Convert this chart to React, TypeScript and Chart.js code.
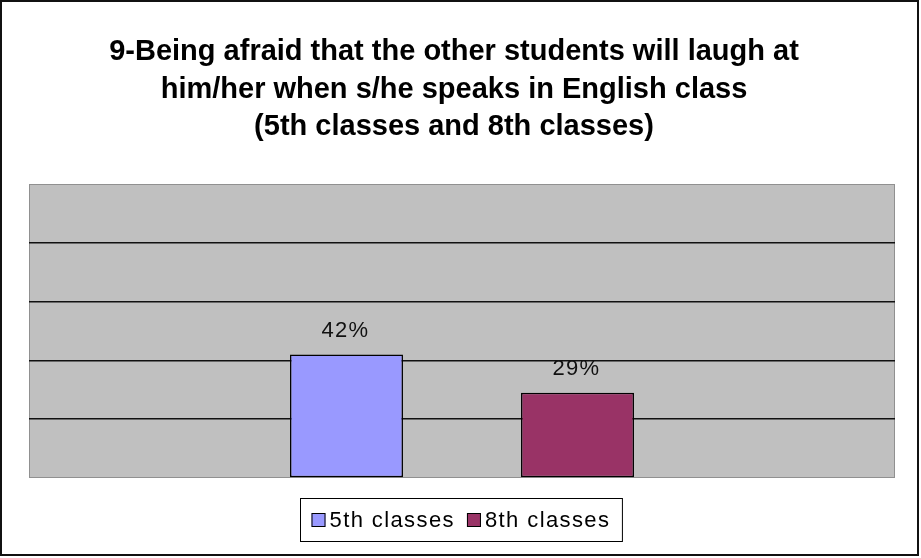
import React, { useEffect, useRef } from "react";
import { Chart, registerables } from "chart.js";

Chart.register(...registerables);

const titleLines = [
  "9-Being afraid that the other students will laugh at",
  "him/her when s/he speaks in English class",
  "(5th classes and 8th classes)",
];
const categories = [""];
const seriesNames = ["5th classes", "8th classes"];
const seriesValues = [[42], [29]];
const seriesColors = ["#9999FF", "#993366"];
const yTicks = [0, 20, 40, 60, 80, 100];

const FONT = "'Liberation Sans', Arial, sans-serif";

// white page, outer frame, grey plot wall and the title lines
const framePlugin = {
  id: "frame",
  beforeDraw(chart: any) {
    const { ctx, width, height, chartArea } = chart;
    ctx.save();
    ctx.fillStyle = "#ffffff";
    ctx.fillRect(0, 0, width, height);
    ctx.strokeStyle = "#111111";
    ctx.lineWidth = 2;
    ctx.strokeRect(1, 1, width - 4, height - 4);

    ctx.fillStyle = "#C0C0C0";
    ctx.fillRect(chartArea.left, chartArea.top, chartArea.right - chartArea.left, chartArea.bottom - chartArea.top);
    ctx.strokeStyle = "#909090";
    ctx.lineWidth = 1;
    ctx.strokeRect(chartArea.left + 0.5, chartArea.top + 0.5, chartArea.right - chartArea.left - 1, chartArea.bottom - chartArea.top - 1);

    ctx.fillStyle = "#000000";
    ctx.font = `bold 29px ${FONT}`;
    ctx.textAlign = "center";
    ctx.textBaseline = "alphabetic";
    titleLines.forEach((line, i) => {
      ctx.fillText(line, 454, 60 + i * 37.5);
    });
    ctx.restore();
  },
};

// percentage labels above each bar
const valueLabelPlugin = {
  id: "valueLabels",
  afterDatasetsDraw(chart: any) {
    const { ctx } = chart;
    ctx.save();
    ctx.fillStyle = "#111111";
    ctx.font = `22px ${FONT}`;
    (ctx as any).letterSpacing = "1.3px";
    ctx.textAlign = "center";
    ctx.textBaseline = "alphabetic";
    chart.data.datasets.forEach((ds: any, di: number) => {
      const meta = chart.getDatasetMeta(di);
      meta.data.forEach((bar: any, i: number) => {
        ctx.fillText(`${ds.data[i]}%`, bar.x - 1, bar.y - 18);
      });
    });
    ctx.restore();
  },
};

// framed legend under the plot
const boxedLegendPlugin = {
  id: "boxedLegend",
  afterDraw(chart: any) {
    const { ctx } = chart;
    ctx.save();
    ctx.font = `22px ${FONT}`;
    (ctx as any).letterSpacing = "1.4px";
    const sw = 14;
    const gapBoxText = 4;
    const gapItems = 12;
    const items = chart.data.datasets.map((ds: any) => ({
      label: ds.label,
      color: ds.backgroundColor,
      w: ctx.measureText(ds.label).width,
    }));
    const inner = items.reduce((s: number, it: any) => s + sw + gapBoxText + it.w, 0) + gapItems * (items.length - 1);
    const padL = 11;
    const padR = 12;
    const boxW = inner + padL + padR;
    const boxH = 43;
    const cx = 460.5;
    const left = Math.round(cx - boxW / 2) + 0.5;
    const top = 498.5;
    ctx.strokeStyle = "#000000";
    ctx.lineWidth = 1;
    ctx.strokeRect(left, top, boxW, boxH);
    const midY = top + boxH / 2;
    let x = left + padL;
    ctx.textBaseline = "middle";
    ctx.textAlign = "left";
    items.forEach((it: any) => {
      ctx.fillStyle = it.color;
      ctx.fillRect(x, midY - sw / 2, sw, sw);
      ctx.strokeStyle = "#000000";
      ctx.strokeRect(x + 0.5, midY - sw / 2 + 0.5, sw - 1, sw - 1);
      x += sw + gapBoxText;
      ctx.fillStyle = "#000000";
      ctx.fillText(it.label, x, midY + 1);
      x += it.w + gapItems;
    });
    ctx.restore();
  },
};

export default function App() {
  const ref = useRef<HTMLCanvasElement>(null);

  useEffect(() => {
    document.body.style.margin = "0";
    if (!ref.current) return;
    const chart = new Chart(ref.current, {
      type: "bar",
      data: {
        labels: categories,
        datasets: seriesNames.map((name, i) => ({
          label: name,
          data: seriesValues[i],
          backgroundColor: seriesColors[i],
          borderColor: "#000000",
          borderWidth: 1.5,
          borderSkipped: false,
          categoryPercentage: 0.5335,
          barPercentage: 0.489,
        })),
      },
      options: {
        responsive: false,
        animation: false,
        layout: { padding: { left: 29, right: 26, top: 184, bottom: 80 } },
        plugins: {
          legend: { display: false },
          title: { display: false },
          tooltip: { enabled: false },
        },
        scales: {
          x: { display: false },
          y: {
            min: yTicks[0],
            max: yTicks[yTicks.length - 1],
            afterBuildTicks: (scale: any) => {
              scale.ticks = yTicks.map((v) => ({ value: v }));
            },
            afterFit: (scale: any) => {
              scale.width = 0;
            },
            ticks: { display: false },
            border: { display: false },
            grid: {
              drawTicks: false,
              tickLength: 0,
              lineWidth: 1.5,
              color: (c: any) =>
                c.tick && (c.tick.value === yTicks[0] || c.tick.value === yTicks[yTicks.length - 1])
                  ? "rgba(0,0,0,0)"
                  : "#111111",
            },
          },
        },
      },
      plugins: [framePlugin, valueLabelPlugin, boxedLegendPlugin],
    });
    return () => chart.destroy();
  }, []);

  return (
    <div style={{ width: 921, height: 558 }}>
      <canvas ref={ref} width={921} height={558} style={{ display: "block" }} />
    </div>
  );
}
